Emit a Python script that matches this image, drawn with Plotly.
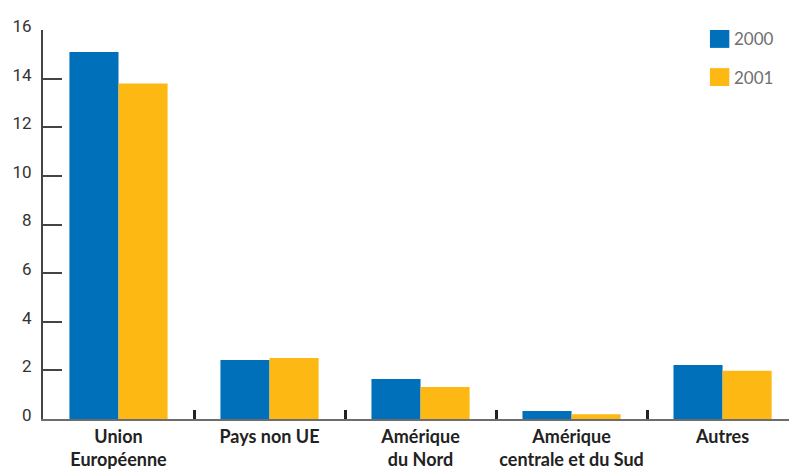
import plotly.graph_objects as go

# Data
categories = ["Union<br>Européenne", "Pays non UE", "Amérique<br>du Nord",
              "Amérique<br>centrale et du Sud", "Autres"]
series_names = ["2000", "2001"]
values_2000 = [15.1, 2.43, 1.65, 0.33, 2.22]
values_2001 = [13.8, 2.51, 1.32, 0.2, 1.98]
y_ticks = [0, 2, 4, 6, 8, 10, 12, 14, 16]

colors = ["#0070BA", "#FDB813"]

fig = go.Figure()
for name, vals, col in zip(series_names, [values_2000, values_2001], colors):
    fig.add_trace(go.Bar(x=categories, y=vals, name=name, marker_color=col,
                         marker_line_width=0, showlegend=False))

# Hand-placed legend: swatches plus labels at the top right
legend_rows = [(1.0, 0.954), (0.902, 0.856)]
for (y1, y0), name, col in zip(legend_rows, series_names, colors):
    fig.add_shape(type="rect", xref="paper", yref="paper",
                  x0=0.894, x1=0.920, y0=y0, y1=y1,
                  fillcolor=col, line_width=0)
    fig.add_annotation(xref="paper", yref="paper", x=0.923, y=(y0 + y1) / 2,
                       text=name, showarrow=False, xanchor="left", yanchor="middle",
                       font=dict(family="Liberation Sans Narrow, Lato", size=17, color="#707070"))

fig.update_layout(
    width=789, height=469,
    margin=dict(l=43, r=0, t=30, b=50, autoexpand=False),
    paper_bgcolor="white", plot_bgcolor="white",
    barmode="group", bargap=0.35, bargroupgap=0,
    font=dict(family="Lato", color="#222222"),
)
fig.update_xaxes(
    range=[-0.5, 4.44], showline=True, linecolor="#6d6d6d", linewidth=2,
    ticks="inside", tickson="boundaries", ticklen=9, tickwidth=3, tickcolor="#222222",
    tickfont=dict(family="Lato", size=18, color="#222222", weight="bold"),
    tickangle=0, automargin=False, ticklabelstandoff=0,
    showgrid=False, zeroline=False,
)
fig.update_yaxes(
    range=[0, 16], tickvals=y_ticks, showline=True, linecolor="#444444", linewidth=2,
    ticks="inside", ticklen=19, tickwidth=2, tickcolor="#444444",
    tickfont=dict(family="Roboto", size=17, color="#333333"),
    ticklabelstandoff=6, ticklabelshift=-4, automargin=False,
    showgrid=False, zeroline=False,
)

fig.write_html("out.html")
